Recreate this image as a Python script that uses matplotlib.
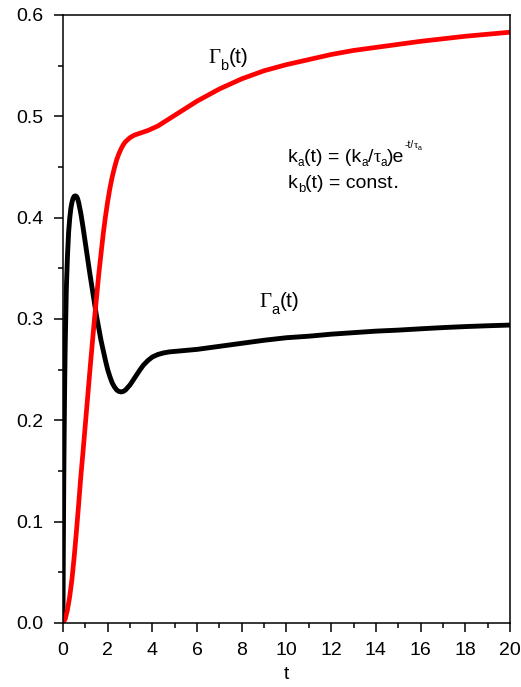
import matplotlib
matplotlib.use("Agg")
import matplotlib.pyplot as plt
from matplotlib.ticker import MultipleLocator

plt.rcParams['font.family'] = ['Liberation Sans', 'DejaVu Sans']

# Gamma_a(t) (black)
t_a = [0, 0.01, 0.02, 0.035, 0.05, 0.075, 0.1, 0.15, 0.2, 0.25, 0.3, 0.35, 0.4, 0.45, 0.5, 0.55,
       0.6, 0.65, 0.7, 0.8, 0.9, 1.0, 1.1, 1.2, 1.3, 1.4, 1.5, 1.6, 1.7, 1.8, 1.9, 2.0, 2.1,
       2.2, 2.3, 2.4, 2.5, 2.6, 2.7, 2.8, 2.9, 3.0, 3.15, 3.3, 3.45, 3.6, 3.8, 4.0, 4.25, 4.5,
       4.75, 5.0, 5.5, 6.0, 7, 8, 9, 10, 11, 12, 13, 14, 15, 16, 17, 18, 19, 20]
g_a = [0, 0.05, 0.09, 0.14, 0.18, 0.235, 0.275, 0.33, 0.362, 0.385, 0.399, 0.409, 0.415, 0.419, 0.421, 0.4215,
       0.421, 0.419, 0.415, 0.404, 0.39, 0.375, 0.36, 0.345, 0.331, 0.317, 0.303, 0.291, 0.279, 0.269, 0.259, 0.25, 0.243,
       0.237, 0.233, 0.23, 0.2285, 0.228, 0.2285, 0.23, 0.2325, 0.235, 0.24, 0.245, 0.25, 0.2545, 0.259, 0.2625, 0.265, 0.2665,
       0.2675, 0.268, 0.269, 0.27, 0.273, 0.276, 0.279, 0.2815, 0.283, 0.285, 0.2865, 0.288, 0.289, 0.2903, 0.2915, 0.2925, 0.2933, 0.294]

# Gamma_b(t) (red)
t_b = [0, 0.1, 0.2, 0.3, 0.4, 0.5, 0.6, 0.7, 0.8, 0.9, 1.0, 1.2, 1.4, 1.6, 1.8, 1.9, 2.0, 2.1, 2.2, 2.3,
       2.4, 2.5, 2.6, 2.7, 2.8, 3.0, 3.2, 3.4, 3.6, 3.8, 4.0, 4.25, 4.5, 4.75, 5.0, 5.5, 6.0,
       6.5, 7, 7.5, 8, 9, 10, 11, 12, 13, 14, 15, 16, 17, 18, 19, 20]
g_b = [0, 0.004, 0.013, 0.026, 0.043, 0.065, 0.09, 0.117, 0.145, 0.17, 0.196, 0.248, 0.298, 0.344, 0.384, 0.401, 0.416, 0.429, 0.44, 0.449,
       0.457, 0.463, 0.468, 0.472, 0.475, 0.479, 0.4815, 0.483, 0.4845, 0.486, 0.488, 0.4905, 0.494, 0.4975, 0.501, 0.508, 0.515,
       0.521, 0.527, 0.532, 0.537, 0.545, 0.551, 0.556, 0.561, 0.565, 0.568, 0.571, 0.574, 0.5765, 0.579, 0.581, 0.583]

x_ticks = [0, 2, 4, 6, 8, 10, 12, 14, 16, 18, 20]
y_ticks = [0.0, 0.1, 0.2, 0.3, 0.4, 0.5, 0.6]

SANS = 'Liberation Sans'
SERIF = 'Liberation Serif'

fig = plt.figure(figsize=(5.21, 6.87), dpi=100)
ax = fig.add_axes([0.1209, 0.0932, 0.858, 0.885])

ax.plot(t_a, g_a, color='black', lw=3.5, solid_capstyle='round', solid_joinstyle='round')
ax.plot(t_b, g_b, color='#ff0000', lw=3.4, solid_capstyle='round', solid_joinstyle='round')

ax.set_xlim(0, 20)
ax.set_ylim(0, 0.6)
ax.set_xticks(x_ticks)
ax.set_xticklabels([str(v) for v in x_ticks])
ax.set_yticks(y_ticks)
ax.set_yticklabels([f"{v:.1f}" for v in y_ticks])
ax.xaxis.set_minor_locator(MultipleLocator(1))
ax.yaxis.set_minor_locator(MultipleLocator(0.05))
ax.tick_params(which='major', direction='out', length=6.5, width=1.1, labelsize=14, pad=7.5,
               top=False, right=False)
ax.tick_params(which='minor', direction='out', length=3.6, width=1.1, top=False, right=False)
for s in ax.spines.values():
    s.set_linewidth(1.1)
ax.set_xlabel('t', fontsize=14, labelpad=5)

renderer = fig.canvas.get_renderer()


def draw_pieces(x, y, pieces):
    dx = 0.0
    for txt, size, family, dy in pieces:
        t = ax.annotate(txt, (x, y), xytext=(dx, dy), textcoords='offset points',
                        fontsize=size, family=family, va='baseline', ha='left')
        bb = t.get_window_extent(renderer)
        dx += bb.width * 72.0 / fig.dpi


draw_pieces(6.49, 0.5525, [('Γ', 15, SERIF, 0), ('b', 10.5, SANS, -5.2), ('(t)', 15, SANS, 0)])
draw_pieces(8.77, 0.3122, [('Γ', 15, SERIF, 0), ('a', 10.5, SANS, -5.2), ('(t)', 15, SANS, 0)])

draw_pieces(10.07, 0.4554, [('k', 14, SANS, 0), ('a', 8.5, SANS, -3), ('(t) = (k', 14, SANS, 0),
                            ('a', 8.5, SANS, -3), ('/', 14, SANS, 0), ('τ', 13, SERIF, 0),
                            ('a', 8.5, SANS, -3), (')e', 14, SANS, 0), ('-t/', 7.5, SANS, 9.5),
                            ('τ', 7.5, SERIF, 9.5), ('a', 5, SANS, 8)])
draw_pieces(10.07, 0.4291, [('k', 14, SANS, 0), ('b', 9.5, SANS, -3), ('(t) = const', 14, SANS, 0),
                            ('.', 14, 'DejaVu Sans', 0)])

fig.savefig('out.png', dpi=100)
